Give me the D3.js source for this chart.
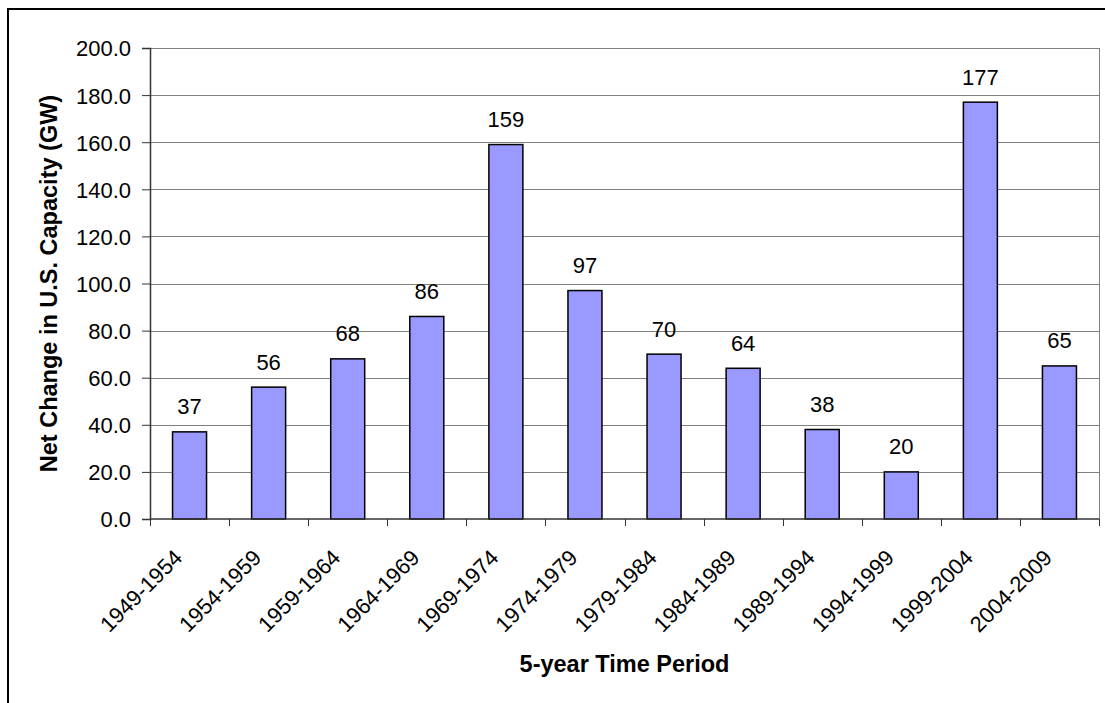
<!DOCTYPE html>
<html>
<head>
<meta charset="utf-8">
<script src="https://cdn.jsdelivr.net/npm/d3@7"></script>
<style>
  html, body { margin: 0; padding: 0; background: #fff; }
  svg { display: block; font-family: Arial, "Liberation Sans", sans-serif; }
</style>
</head>
<body>
<svg id="chart" width="1105" height="703"></svg>
<script>
// Net change in U.S. generating capacity by 5-year period (GW)
const periods = ["1949-1954", "1954-1959", "1959-1964", "1964-1969", "1969-1974", "1974-1979",
                 "1979-1984", "1984-1989", "1989-1994", "1994-1999", "1999-2004", "2004-2009"];
const netChange = [37, 56, 68, 86, 159, 97, 70, 64, 38, 20, 177, 65];
const yTicks = [0, 20, 40, 60, 80, 100, 120, 140, 160, 180, 200];

const svg = d3.select("#chart");
const plot = { left: 150, right: 1099, top: 48, bottom: 519 };
const FONT = "Arial, 'Liberation Sans', sans-serif";

// outer chart frame (runs past the right and bottom edges)
svg.append("rect")
  .attr("x", 8).attr("y", 9)
  .attr("width", 1110).attr("height", 720)
  .attr("fill", "none").attr("stroke", "#000").attr("stroke-width", 2);

const x = d3.scaleBand().domain(periods).range([plot.left, plot.right]).paddingInner(0).paddingOuter(0);
const y = d3.scaleLinear().domain([0, 200]).range([plot.bottom, plot.top]);

// horizontal gridlines
svg.append("g")
  .selectAll("line")
  .data(yTicks.filter(d => d > 0))
  .join("line")
  .attr("x1", plot.left).attr("x2", plot.right)
  .attr("y1", d => Math.round(y(d)) + 0.5).attr("y2", d => Math.round(y(d)) + 0.5)
  .attr("stroke", "#808080").attr("stroke-width", 1);

// right border of the plot area
svg.append("line")
  .attr("x1", plot.right + 0.5).attr("x2", plot.right + 0.5)
  .attr("y1", plot.top).attr("y2", plot.bottom)
  .attr("stroke", "#808080").attr("stroke-width", 1);

// bars
const barW = 34;
svg.append("g")
  .selectAll("rect")
  .data(periods)
  .join("rect")
  .attr("x", (d) => x(d) + x.bandwidth() / 2 - barW / 2)
  .attr("y", (d, i) => y(netChange[i]))
  .attr("width", barW)
  .attr("height", (d, i) => y(0) - y(netChange[i]))
  .attr("fill", "#9999FF")
  .attr("stroke", "#000").attr("stroke-width", 1.5);

// value labels
svg.append("g")
  .selectAll("text")
  .data(periods)
  .join("text")
  .attr("x", d => x(d) + x.bandwidth() / 2)
  .attr("y", (d, i) => y(netChange[i]) - 17.5)
  .attr("text-anchor", "middle")
  .attr("font-size", 22)
  .attr("fill", "#000")
  .text((d, i) => netChange[i]);

// y axis
const yAxis = svg.append("g")
  .attr("transform", `translate(${plot.left},0)`)
  .call(d3.axisLeft(y).tickValues(yTicks).tickSize(8).tickPadding(11).tickFormat(d3.format(".1f")));
yAxis.select(".domain").attr("stroke", "#333").attr("stroke-width", 1.5);
yAxis.selectAll(".tick line").attr("stroke", "#333");
yAxis.selectAll(".tick text").attr("font-size", 22).attr("fill", "#000")
  .attr("font-family", FONT).attr("dy", "0.36em");

// x axis with ticks on category boundaries
const xAxisG = svg.append("g").attr("transform", `translate(0,${plot.bottom})`);
xAxisG.append("line")
  .attr("x1", plot.left).attr("x2", plot.right)
  .attr("y1", 0).attr("y2", 0)
  .attr("stroke", "#333").attr("stroke-width", 1.5);
const boundaries = periods.map(d => x(d)).concat([x(periods[periods.length - 1]) + x.bandwidth()]);
xAxisG.selectAll("line.tick")
  .data(boundaries)
  .join("line")
  .attr("class", "tick")
  .attr("x1", d => Math.round(d) + 0.5).attr("x2", d => Math.round(d) + 0.5)
  .attr("y1", 0).attr("y2", 7)
  .attr("stroke", "#333").attr("stroke-width", 1);
xAxisG.selectAll("text")
  .data(periods)
  .join("text")
  .attr("transform", d => `translate(${x(d) + x.bandwidth() / 2 - 6},${40}) rotate(-45)`)
  .attr("text-anchor", "end")
  .attr("font-size", 22)
  .attr("fill", "#000")
  .text(d => d);

// axis titles
svg.append("text")
  .attr("x", (plot.left + plot.right) / 2)
  .attr("y", 672)
  .attr("text-anchor", "middle")
  .attr("font-size", 23.5).attr("font-weight", "bold")
  .text("5-year Time Period");

svg.append("text")
  .attr("transform", `translate(57,${(plot.top + plot.bottom) / 2}) rotate(-90)`)
  .attr("text-anchor", "middle")
  .attr("font-size", 23.5).attr("font-weight", "bold")
  .text("Net Change in U.S. Capacity (GW)");
</script>
</body>
</html>
